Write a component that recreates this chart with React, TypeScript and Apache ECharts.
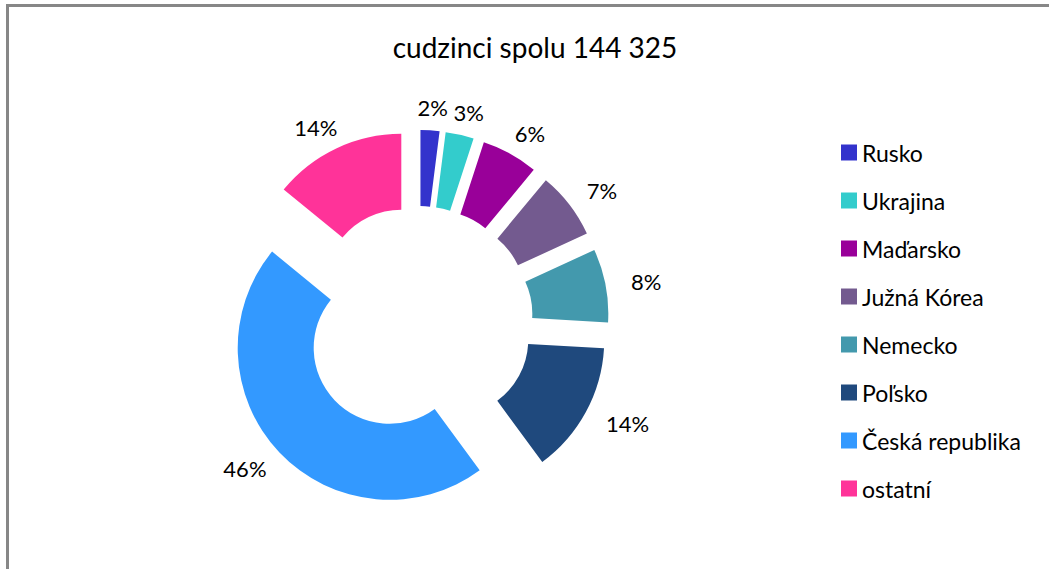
import React, { useEffect, useRef } from "react";
import * as echarts from "echarts";

const titleText = "cudzinci spolu 144 325";
const categories = [
  "Rusko",
  "Ukrajina",
  "Maďarsko",
  "Južná Kórea",
  "Nemecko",
  "Poľsko",
  "Česká republika",
  "ostatní",
];
const values = [2900, 4330, 8660, 10250, 11260, 20210, 66390, 20325];
const colors = [
  "#3333CC",
  "#33CCCC",
  "#990099",
  "#735A8F",
  "#4399AD",
  "#1F497D",
  "#3399FF",
  "#FF3399",
];

const FONT = "Lato";
const CENTER_X = 418;
const CENTER_Y = 321;
const R_IN = 76;
const R_OUT = 152;
const EXPLODE = 39;
const LABEL_GAP = 12;
const LABEL_PAD_X = 14;

export default function App() {
  const ref = useRef<HTMLDivElement>(null);
  useEffect(() => {
    if (!ref.current) return;
    const chart = echarts.init(ref.current, undefined, { renderer: "svg" });
    const total = values.reduce((a, b) => a + b, 0);
    const mids: number[] = [];
    let acc = 0;
    values.forEach((v) => {
      mids.push(((acc + v / 2) / total) * Math.PI * 2);
      acc += v;
    });
    const common = {
      type: "pie",
      center: [CENTER_X, CENTER_Y],
      radius: [R_IN, R_OUT],
      startAngle: 90,
      clockwise: true,
      avoidLabelOverlap: false,
      minShowLabelAngle: 0,
      emphasis: { disabled: true },
    };
    chart.setOption({
      animation: false,
      backgroundColor: "#ffffff",
      title: {
        text: titleText,
        left: 535,
        top: 33,
        textAlign: "center",
        padding: 0,
        textStyle: {
          fontFamily: FONT,
          fontSize: 28,
          fontWeight: "normal",
          color: "#000000",
        },
      },
      legend: {
        orient: "vertical",
        left: 836,
        top: 136,
        itemWidth: 16,
        itemHeight: 16,
        itemGap: 25,
        icon: "rect",
        selectedMode: false,
        data: categories,
        textStyle: {
          fontFamily: FONT,
          fontSize: 23,
          lineHeight: 23,
          color: "#000000",
        },
      },
      graphic: [
        {
          type: "rect",
          shape: { x: 7.5, y: 5.5, width: 1200, height: 800 },
          style: { fill: "none", stroke: "#878787", lineWidth: 3 },
          silent: true,
        },
      ],
      series: [
        {
          ...common,
          name: "segments",
          selectedMode: "multiple",
          selectedOffset: EXPLODE,
          label: { show: false },
          labelLine: { show: false },
          data: categories.map((name, i) => ({
            name,
            value: values[i],
            selected: true,
            itemStyle: { color: colors[i] },
          })),
        },
        {
          ...common,
          name: "labels",
          silent: true,
          selectedMode: false,
          itemStyle: { color: "rgba(0,0,0,0)" },
          label: {
            show: true,
            position: "outside",
            fontFamily: FONT,
            fontSize: 22,
            color: "#000000",
            formatter: (p: any) => Math.round(p.percent) + "%",
          },
          labelLine: { show: false, length: 12, length2: 0 },
          labelLayout: (p: any) => {
            const r = p.labelRect;
            const th = mids[p.dataIndex];
            const ux = Math.sin(th);
            const uy = -Math.cos(th);
            const d = EXPLODE + R_OUT + LABEL_GAP;
            return {
              x: CENTER_X + d * ux + ux * (r.width / 2 + LABEL_PAD_X),
              y: CENTER_Y + d * uy + (uy * r.height) / 2,
              align: "center",
              verticalAlign: "middle",
              hideOverlap: false,
              moveOverlap: false,
            };
          },
          data: categories.map((name, i) => ({
            name,
            value: values[i],
          })),
        },
      ],
    });
    return () => chart.dispose();
  }, []);
  return (
    <div
      ref={ref}
      style={{ position: "fixed", left: 0, top: 0, width: 1049, height: 569 }}
    />
  );
}
